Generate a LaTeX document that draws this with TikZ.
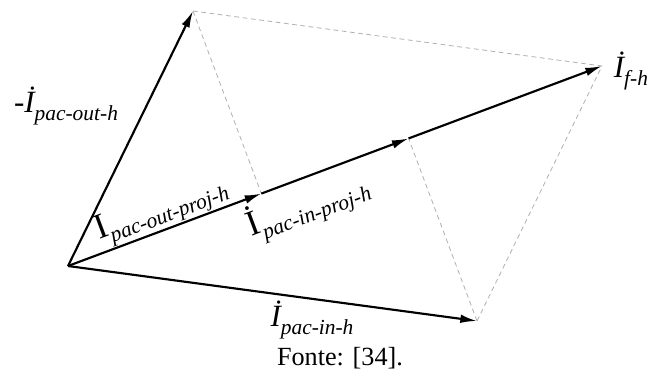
\documentclass[tikz,border=0pt]{standalone}
\usepackage{fontspec}
\setmainfont{Liberation Serif}
\usepackage{tikz}
\usetikzlibrary{arrows.meta,positioning,calc}

\newcommand{\fasor}[3][13]{{\fontsize{#1}{#1}\selectfont #2}\raisebox{-3pt}{\fontsize{9}{9}\selectfont\itshape #3}}

\begin{document}
\begin{tikzpicture}[x=0.42pt,y=-0.42pt,
    vetor/.style={line width=0.9pt,-{Latex[length=7pt,width=3.6pt]}},
    tracejado/.style={gray!60,line width=0.35pt,dash pattern=on 2pt off 1.5pt},
    rotulo/.style={inner sep=1pt,font=\fontsize{13}{13}\selectfont}]
  \useasboundingbox (0,0) rectangle (651,376);
  \coordinate (O) at (68,266);
  \coordinate (A) at (193,11);
  \coordinate (B) at (477,321);
  \coordinate (F) at ($(A)+(B)-(O)$);
  \coordinate (P1) at ($(O)!(A)!(F)$);
  \coordinate (P2) at ($(O)!(B)!(F)$);

  \draw[tracejado] (A) -- (F) -- (B);
  \draw[tracejado] (A) -- (P1);
  \draw[tracejado] (B) -- (P2);

  \draw[vetor] (O) -- (A);
  \draw[vetor] (O) -- (B);
  \draw[vetor] (O) -- (P1);
  \draw[vetor] (P1) -- (P2);
  \draw[vetor] (P2) -- (F);

  \node[rotulo] (outlbl) at (66,106) {-\fasor{\itshape İ}{pac-out-h}};
  \node[rotulo,anchor=west] (flbl) at ($(F)+(9,5)$) {\fasor{\itshape İ}{f-h}};
  \node[rotulo] (inlbl) at (312,320) {\fasor{\itshape İ}{pac-in-h}};
  \node[rotulo,rotate=20.5,anchor=south,inner sep=0.5pt] (outprojlbl) at ($(O)!0.52!(P1)$)
    {\fasor[15]{I}{pac-out-proj-h}};
  \node[rotulo,rotate=20.5,anchor=north,inner sep=3pt] (inprojlbl) at ($(P1)!0.25!(P2)$)
    {\fasor[15]{İ}{pac-in-proj-h}};

  \node[font=\fontsize{11}{11}\selectfont] (fonte) at (340,358) {Fonte: [34].};
\end{tikzpicture}
\end{document}
